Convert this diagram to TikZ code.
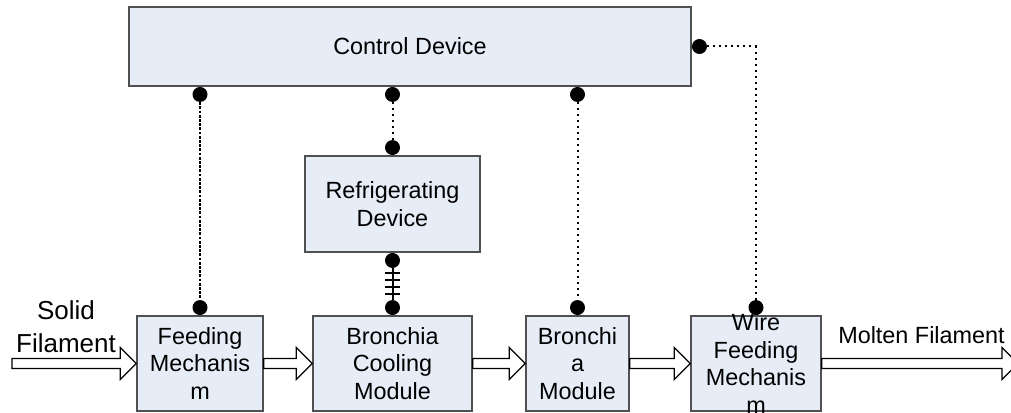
\documentclass[tikz,border=0pt]{standalone}
\usepackage{fontspec}
\setmainfont{Liberation Sans}
\usetikzlibrary{calc}

\definecolor{boxfill}{RGB}{230,237,247}
\definecolor{boxline}{RGB}{80,80,80}

\newcommand\boxfont{\fontsize{23.4}{27.6}\selectfont}
\newcommand\sidefont{\fontsize{26}{33}\selectfont}

% hollow block arrow between two anchors, at the height of the first one
\newcommand\flowarrow[2]{%
  \draw[flow] let \p1=(#1), \p2=(#2) in
    (\x1,\y1+5pt) -- (\x2-16pt,\y1+5pt) -- (\x2-16pt,\y1+16pt) -- (\x2,\y1)
    -- (\x2-16pt,\y1-16pt) -- (\x2-16pt,\y1-5pt) -- (\x1,\y1-5pt) -- cycle;}

\begin{document}
\begin{tikzpicture}[x=1pt,y=-1pt,
  box/.style={draw=boxline, line width=1.5pt, fill=boxfill, inner sep=0pt,
              align=center, font=\boxfont},
  boxtext/.style={inner sep=0pt, align=center, font=\boxfont},
  dot/.style={circle, fill=black, inner sep=0pt, minimum size=15pt},
  sigdot/.style={line width=2pt, dash pattern=on 2pt off 4pt},
  sigdash/.style={line width=2.2pt, dash pattern=on 2.8pt off 1.4pt},
  pipe/.style={line width=2pt},
  flow/.style={draw=black, fill=white, line width=1.1pt, line join=miter},
  lbl/.style={inner sep=0pt, align=center}
]
\useasboundingbox (0,0) rectangle (1011,412);
\clip (0,0) rectangle (1011,412);

% blocks
\node[box, minimum width=562pt, minimum height=79pt] (ctrl) at (410,46.5) {Control Device};
\node[box, minimum width=175pt, minimum height=96pt] (refr) at (392.5,204) {Refrigerating\\Device};
\node[box, minimum width=126pt, minimum height=95pt] (feed) at (200,363.5) {Feeding\\Mechanis\\m};
\node[box, minimum width=159pt, minimum height=95pt] (cool) at (392.5,363.5) {Bronchia\\Cooling\\Module};
\node[box, minimum width=103pt, minimum height=95pt] (bron) at (577.5,363.5) {Bronchi\\a\\Module};
\node[box, minimum width=130pt, minimum height=95pt] (wire) at (756,363.5) {};
\node[boxtext] (wiretext) at (wire.center) {Wire\\Feeding\\Mechanis\\m};

% connection points
\node[dot, anchor=north] (cf) at (ctrl.south -| feed.north) {};
\node[dot, anchor=north] (cr) at (ctrl.south -| refr.north) {};
\node[dot, anchor=north] (cb) at (ctrl.south -| bron.north) {};
\node[dot, anchor=west]  (cw) at (ctrl.east) {};
\node[dot, anchor=south] (rt) at (refr.north) {};
\node[dot, anchor=north] (rb) at (refr.south) {};
\node[dot, anchor=south] (ft) at (feed.north) {};
\node[dot, anchor=south] (kt) at (cool.north) {};
\node[dot, anchor=south] (bt) at (bron.north) {};
\node[dot, anchor=south] (wt) at (wire.north) {};

% control signals
\draw[sigdash] (cf) -- (ft);
\draw[sigdot] (cr) -- (rt);
\draw[sigdot] (cb) -- (bt);
\draw[sigdot] (cw) -- (cw -| wt) -- (wt);

% coolant pipe with cross ties
\draw[pipe] (rb) -- (kt);
\foreach \o in {-11.5,-4.5,2.5,9.5}
  \draw[pipe] ($(rb)!0.5!(kt)+(-7.5,\o)$) -- ($(rb)!0.5!(kt)+(7.5,\o)$);

% material flow
\coordinate (src) at (12,363.5);
\coordinate (sink) at (1018,363.5);
\flowarrow{src}{feed.west}
\flowarrow{feed.east}{cool.west}
\flowarrow{cool.east}{bron.west}
\flowarrow{bron.east}{wire.west}
\flowarrow{wire.east}{sink}

% labels
\node[lbl, font=\sidefont] (solid) at (66,327) {Solid\\Filament};
\node[lbl, font=\boxfont, anchor=base] (molten) at (921.5,343) {Molten Filament};
\end{tikzpicture}
\end{document}
